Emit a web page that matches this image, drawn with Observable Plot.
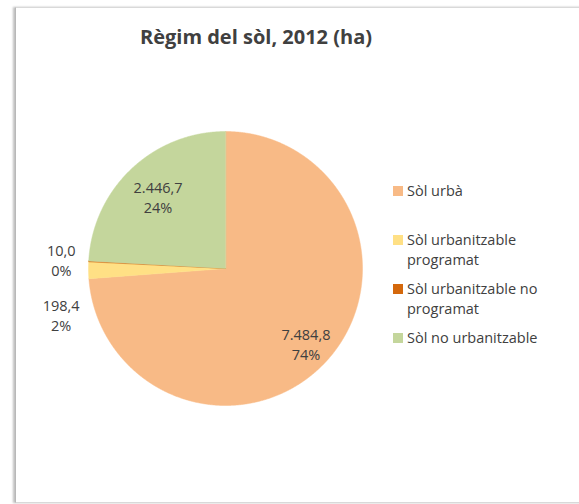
<!DOCTYPE html>
<html><head><meta charset="utf-8">
<script src="https://cdn.jsdelivr.net/npm/d3@7"></script>
<script src="https://cdn.jsdelivr.net/npm/@observablehq/plot@0.6"></script>
<style>
body{margin:0;background:#fff;font-family:"Open Sans",sans-serif;}
#wrap{position:relative;width:579px;height:504px;overflow:hidden;}
#frame{position:absolute;left:15px;top:7px;width:620px;height:494px;border:1px solid #d9d9d9;border-left:1px solid #b8b8b8;box-shadow:-2px 0 2px rgba(0,0,0,0.25);}
#title{position:absolute;top:24px;left:0;width:512px;text-align:center;font-weight:bold;font-size:20px;color:#404040;line-height:26px;}
#chart{position:absolute;left:0;top:0;}
#legend{position:absolute;left:393px;top:181px;}
.item{display:flex;align-items:flex-start;height:49px;}
.sw{width:10px;height:10px;margin-top:5px;margin-right:4px;flex:none;}
.lt{width:150px;font-size:14.5px;line-height:20px;color:#404040;}
</style></head>
<body>
<div id="wrap">
  <div id="frame"></div>
  <div id="chart"></div>
  <div id="title">Règim del sòl, 2012 (ha)</div>
  <div id="legend"></div>
</div>
<script>
const title = "Règim del sòl, 2012 (ha)";
const categories = ["Sòl urbà", "Sòl urbanitzable programat", "Sòl urbanitzable no programat", "Sòl no urbanitzable"];
const values = [7484.8, 198.4, 10.0, 2446.7];
const colors = ["#F8BA86", "#FFE085", "#D4680C", "#C4D69C"];

const data = categories.map((c, i) => ({cat: c, value: values[i]}));
const total = d3.sum(values);
const fmt = d3.formatLocale({decimal: ",", thousands: ".", grouping: [3], currency: ["", ""]}).format(",.1f");
const arcs = d3.pie().sort(null).value(d => d.value)(data);

// slice outlines, derived from the pie angles
const poly = [];
arcs.forEach(a => {
  const n = Math.max(2, Math.ceil((a.endAngle - a.startAngle) / 0.005));
  poly.push({cat: a.data.cat, x: 0, y: 0});
  for (let k = 0; k <= n; k++) {
    const t = a.startAngle + (a.endAngle - a.startAngle) * k / n;
    poly.push({cat: a.data.cat, x: Math.sin(t), y: Math.cos(t)});
  }
});

// labels
const inside = [], outside = [];
arcs.forEach(a => {
  const m = (a.startAngle + a.endAngle) / 2;
  const frac = a.data.value / total;
  const text = fmt(a.data.value) + "\n" + Math.round(frac * 100) + "%";
  if (frac > 0.05) inside.push({x: 0.76 * Math.sin(m) + 0.03, y: 0.76 * Math.cos(m) - 0.03, text});
  else outside.push({x: 1.2 * Math.sin(m), y: 1.2 * Math.cos(m), text});
});
outside.sort((a, b) => b.y - a.y);
for (let i = 1; i < outside.length; i++) {
  if (outside[i - 1].y - outside[i].y < 0.4) outside[i].y = outside[i - 1].y - 0.4;
}

const chart = Plot.plot({
  width: 579, height: 504,
  marginLeft: 88, marginRight: 217, marginTop: 131, marginBottom: 99,
  x: {domain: [-1, 1], axis: null},
  y: {domain: [-1, 1], axis: null},
  color: {domain: categories, range: colors},
  style: {fontFamily: "'Open Sans', sans-serif", background: "transparent"},
  marks: [
    Plot.line(poly, {x: "x", y: "y", z: "cat", fill: "cat", stroke: "cat", strokeWidth: 0.5, curve: "linear-closed"}),
    Plot.text(inside, {x: "x", y: "y", text: "text", fontSize: 14.5, lineHeight: 1.38, fill: "#404040"}),
    Plot.text(outside, {x: "x", y: "y", text: "text", fontSize: 14.5, lineHeight: 1.38, fill: "#404040"})
  ]
});
document.getElementById("chart").appendChild(chart);

const leg = d3.select("#legend");
categories.forEach((c, i) => {
  const it = leg.append("div").attr("class", "item");
  it.append("div").attr("class", "sw").style("background", colors[i]);
  it.append("div").attr("class", "lt").text(c);
});
</script>
</body></html>
